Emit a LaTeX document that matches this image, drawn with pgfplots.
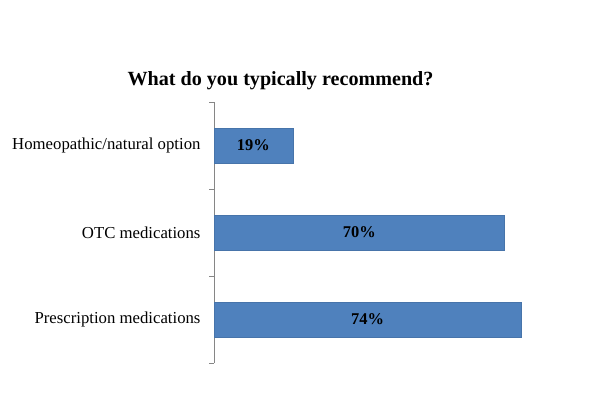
\documentclass[border=0pt]{standalone}
\usepackage{pgfplots}
\pgfplotsset{compat=1.18}
\usepackage{fontspec}
\setmainfont{Liberation Serif}
\definecolor{barblue}{HTML}{4F81BD}
\definecolor{axgray}{HTML}{868686}
\begin{document}
\begin{tikzpicture}[x=1bp,y=1bp]
\path[use as bounding box] (0,0) rectangle (600,398);
\node[font=\bfseries\fontsize{20.2}{23}\selectfont] at (280.5,317.5) {What do you typically recommend?};
\begin{axis}[
  at={(214bp,35bp)}, anchor=south west,
  scale only axis, width=373.5bp, height=261bp,
  xbar, bar width=34.5bp,
  xmin=0, xmax=90, ymin=-0.5, ymax=2.5,
  axis x line=none,
  axis y line*=left,
  y axis line style={draw=axgray, line width=0.8pt, -},
  ytick={0,1,2},
  yticklabels={Prescription medications, OTC medications, Homeopathic/natural option},
  major tick length=0pt,
  minor ytick={-0.5,0.5,1.5,2.5},
  minor tick length=5bp,
  tick align=outside,
  minor tick style={draw=axgray, line width=0.8pt},
  yticklabel style={font=\fontsize{16.8}{18}\selectfont, xshift=-10bp},
  clip=false,
  visualization depends on={rawx \as \rawx},
  nodes near coords={\pgfmathprintnumber[assume math mode=true]{\pgfplotspointmeta}\%},
  point meta=x,
  every node near coord/.append style={anchor=center, font=\bfseries\fontsize{16.5}{18}\selectfont, shift={(axis direction cs:-\rawx/2,0)}},
]
\addplot[fill=barblue, draw=barblue!90!black, line width=0.3pt] coordinates {(74,0) (70,1) (19,2)};
\end{axis}
\end{tikzpicture}
\end{document}
